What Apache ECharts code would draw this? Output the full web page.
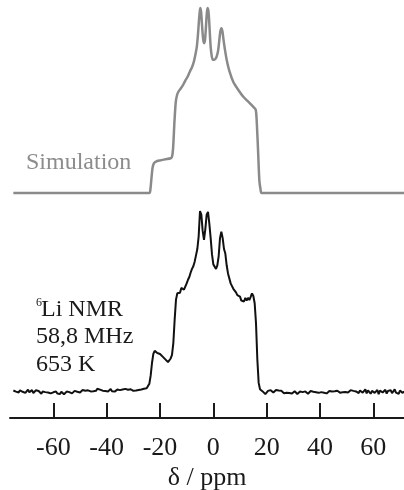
<!DOCTYPE html>
<html>
<head>
<meta charset="utf-8">
<script src="https://cdn.jsdelivr.net/npm/echarts@6/dist/echarts.min.js"></script>
<style>
html,body{margin:0;padding:0;background:#fff;}
#chart{width:404px;height:490px;}
</style>
</head>
<body>
<div id="chart"></div>
<script>
// ---- Data ----
// Tick labels on the chemical shift axis (ppm)
const tickValues = [-60, -40, -20, 0, 20, 40, 60];
const axisName = 'δ / ppm';

// Simulated spectrum: [ppm, relative intensity]
const simPpm = [-75, -24, -23.6, -23.2, -22.8, -22.3, -21.5, -20, -18, -16, -15.5, -15.1, -14.6, -14.1, -13.6, -13, -12.3, -11.5, -10.6, -9.6, -8.7, -8, -7.3, -6.7, -6.2, -5.8, -5.4, -5.1, -4.9, -4.6, -4.3, -4.0, -3.7, -3.4, -3.1, -2.8, -2.5, -2.2, -1.9, -1.6, -1.3, -1.0, -0.6, -0.2, 0.3, 0.8, 1.3, 1.8, 2.2, 2.6, 3.0, 3.4, 3.8, 4.3, 5.0, 6.0, 7.5, 9.0, 11.25, 13, 15, 15.9, 16.3, 16.8, 17.25, 17.7, 18.1, 71.5];
const simInt = [0, 0, 2, 8, 13.5, 16, 17, 17.6, 18.2, 18.8, 19.6, 24, 38, 49, 53, 55, 56.3, 58, 60.5, 63, 66, 68, 71, 75, 79, 85, 93, 98, 100, 98, 92, 86, 82, 81, 83, 89, 96, 100, 99, 94, 86, 79, 74, 72, 72, 72.5, 74, 77, 82, 87, 89, 87.5, 83, 78, 72, 66, 60, 56.5, 52, 49.5, 46.6, 45, 38, 22, 7, 2, 0, 0];

// Measured 6Li NMR spectrum
const expLeftStart = -75, expStep = 0.5;          // baseline left of the signal
const expLeftBaseline = [
  0.8, 1.5, 0.2, 1.2, -0.3, 0.9, 1.6, 0.1, 0.7, -0.5, 0.6, 1.3, -0.2, 0.4, 1.0, -0.6, 0.3, 0.9, -0.1, 0.5,
  -0.4, -1.0, 0.2, -0.7, -0.1, -1.2, -0.3, 0.4, -0.8, -1.4, -0.2, -0.6, 0.3, -0.9, -0.4, -1.1, 0.1, -0.5, -1.3, -0.3,
  0.2, -0.6, -0.1, 0.5, -0.8, -0.2, 0.6, -0.4, 0.1, 0.9, -0.3, 0.4, 1.1, 0.0, 0.7, -0.2, 0.9, 1.4, 0.3, 1.0,
  0.4, 1.5, 0.6, 1.8, 0.9, 1.3, 2.0, 0.7, 1.4, 0.5, 1.2, 0.3, 0.9, 1.6, 0.4, 1.1, 0.2, 0.8, 1.3, 0.6,
  1.0, 0.4, 1.4, 0.7, 1.7, 0.9, 1.2, 0.5, 1.5, 1.0, 0.6, 1.3, 0.8, 1.6, 1.1, 0.7, 1.4, 1.0, 1.8, 1.3, 2.0
];
// signal region: [ppm, intensity]
const expSignal = [
  [-24.5, 2.5], [-24.0, 4.5], [-23.5, 9], [-23.0, 16], [-22.5, 21], [-22.0, 22.7], [-21.5, 22.3], [-21.0, 21.5],
  [-20.5, 21.8], [-20.0, 21.0], [-19.5, 20.5], [-19.0, 19.5], [-18.5, 18.8], [-18.0, 18.0], [-17.5, 17.2], [-17.0, 16.5],
  [-16.5, 16.8], [-16.0, 18.5], [-15.5, 20.5], [-15.0, 27], [-14.5, 40], [-14.0, 51], [-13.5, 54.5], [-13.0, 55],
  [-12.5, 54.8], [-12.0, 57.5], [-11.5, 58.2], [-11.0, 56.5], [-10.5, 57.5], [-10.0, 60], [-9.5, 62], [-9.0, 63.5],
  [-8.5, 66], [-8.0, 68], [-7.5, 69.5], [-7.0, 72], [-6.5, 75.5], [-6.0, 79], [-5.5, 86], [-5.0, 100],
  [-4.5, 98], [-4.0, 89], [-3.5, 84], [-3.0, 90], [-2.5, 98], [-2.0, 99.5], [-1.5, 93], [-1.0, 85],
  [-0.5, 76], [0.0, 70.5], [0.5, 69.5], [1.0, 68], [1.5, 70], [2.0, 75], [2.5, 85], [3.0, 88.6],
  [3.5, 85], [4.0, 79], [4.5, 76.5], [5.0, 70], [5.5, 65.5], [6.0, 64.5], [6.5, 60], [7.0, 58.5],
  [7.5, 57], [8.0, 56], [8.5, 55], [9.0, 53.5], [9.5, 54], [10.0, 52.7], [10.5, 50.5], [11.0, 51.5],
  [11.5, 50], [12.0, 52], [12.5, 50.5], [13.0, 52], [13.5, 50.8], [14.0, 52.5], [14.5, 54.5], [15.0, 53],
  [15.5, 49], [16.0, 38], [16.5, 18], [17.0, 5], [17.5, 1.5], [18.0, 0.5]
];
const expRightStart = 18.5;                        // baseline right of the signal
const expRightBaseline = [
  0.3, -0.5, -1.2, -0.4, 0.6, 0.1, 1.0, 0.4, -0.3, 0.5, 1.1, 0.2, 0.8, -0.1, 0.6, 0.0, -0.7, 0.3, -0.4, 0.2,
  -0.6, 0.1, -0.9, -0.2, 0.4, -0.5, -1.1, -0.3, 0.2, -0.8, -0.1, -0.6, 0.3, -0.4, -1.0, -0.2, 0.5, -0.3, 0.1, -0.7,
  -0.2, 0.4, -0.5, 0.2, -0.1, 0.6, -0.4, 0.3, -0.8, 0.0, 0.5, -0.3, 0.2, -0.6, 0.4, -0.1, 0.7, 0.1, -0.4, 0.3,
  -0.2, 0.5, 0.0, 0.8, -0.3, 0.4, 1.0, -0.1, 0.6, -0.5, 0.3, 1.2, -0.6, 0.8, 1.6, -0.4, 0.2, 1.4, -0.8, 0.9,
  1.5, -1.0, 0.6, 1.3, -0.5, 0.2, 1.1, -1.2, 0.7, 1.5, -0.3, 0.4, 1.2, -0.9, 0.5, -0.2, 1.0, -0.7, 0.3, 1.4,
  -0.4, 0.6, -1.1, 0.8, 0.1, -0.6, 0.4
];

// Annotation texts
const simLabel = 'Simulation';
const expLabelSup = '6';
const expLabelLines = ['Li NMR', '58,8 MHz', '653 K'];

// ---- Build series data ----
const simData = simPpm.map((p, i) => [p, simInt[i]]);
const expData = [];
expLeftBaseline.forEach((v, i) => expData.push([expLeftStart + i * expStep, v]));
expSignal.forEach(d => expData.push(d));
expRightBaseline.forEach((v, i) => expData.push([expRightStart + i * expStep, v]));

const FONT = '"Liberation Serif", "DejaVu Serif", serif';
const X_MIN = -76.25, X_MAX = 71.5;

const chart = echarts.init(document.getElementById('chart'), null, {renderer: 'canvas'});
chart.setOption({
  animation: false,
  backgroundColor: '#ffffff',
  grid: [
    {left: 10, width: 394, top: 8, height: 185, containLabel: false, outerBoundsMode: 'none'},
    {left: 10, width: 394, top: 211, height: 207, containLabel: false, outerBoundsMode: 'none'}
  ],
  xAxis: [
    {gridIndex: 0, type: 'value', min: X_MIN, max: X_MAX, show: false},
    {
      gridIndex: 1, type: 'value', min: X_MIN, max: X_MAX,
      name: axisName, nameLocation: 'middle', nameGap: 47,
      nameTextStyle: {fontFamily: FONT, fontSize: 26, color: '#1a1a1a'},
      axisLine: {show: true, onZero: false, lineStyle: {color: '#1a1a1a', width: 2}},
      axisTick: {show: true, inside: true, length: 15, lineStyle: {color: '#1a1a1a', width: 2}, customValues: tickValues},
      axisLabel: {fontFamily: FONT, fontSize: 26, color: '#1a1a1a', margin: 17, customValues: tickValues},
      splitLine: {show: false}
    }
  ],
  yAxis: [
    {gridIndex: 0, type: 'value', min: 0, max: 100, show: false},
    {gridIndex: 1, type: 'value', min: -14.4, max: 100, show: false}
  ],
  series: [
    {
      type: 'line', xAxisIndex: 0, yAxisIndex: 0, data: simData,
      showSymbol: false, clip: false, smooth: 0.25,
      lineStyle: {color: '#8a8a8a', width: 2.5}
    },
    {
      type: 'line', xAxisIndex: 1, yAxisIndex: 1, data: expData,
      showSymbol: false, clip: false,
      lineStyle: {color: '#111111', width: 2}
    }
  ],
  graphic: [
    {type: 'text', left: 26, top: 151, style: {text: simLabel, font: '24px ' + FONT, fill: '#8c8c8c'}},
    {type: 'text', left: 36, top: 297, style: {text: expLabelSup, font: '12px ' + FONT, fill: '#1a1a1a'}},
    {type: 'text', left: 41, top: 298, style: {text: expLabelLines[0], font: '24px ' + FONT, fill: '#1a1a1a'}},
    {type: 'text', left: 36, top: 325, style: {text: expLabelLines[1], font: '24px ' + FONT, fill: '#1a1a1a'}},
    {type: 'text', left: 36, top: 353, style: {text: expLabelLines[2], font: '24px ' + FONT, fill: '#1a1a1a'}}
  ]
});
</script>
</body>
</html>
